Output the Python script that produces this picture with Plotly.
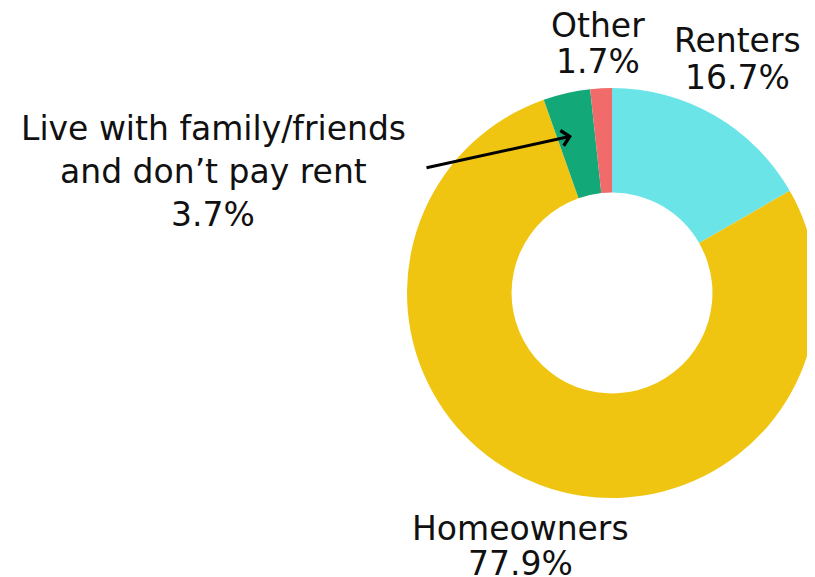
import plotly.graph_objects as go

categories = ["Renters", "Homeowners", "Live with family/friends and don’t pay rent", "Other"]
values = [16.7, 77.9, 3.7, 1.7]
colors = ["#6be4e8", "#f0c512", "#12a878", "#f26b6b"]

W, H = 815, 577
OFF = 8  # page body margin offset
FONT = "DejaVu Sans"
FS = 33
TXT = "#111111"

CX, CY, R = 612 - OFF, 293 - OFF, 205

fig = go.Figure(go.Pie(
    labels=categories,
    values=values,
    sort=False,
    direction="clockwise",
    rotation=0,
    hole=0.49,
    marker=dict(colors=colors, line=dict(width=0)),
    textinfo="none",
    hoverinfo="label+percent",
    domain=dict(x=[(CX - R) / W, (CX + R) / W], y=[(H - CY - R) / H, (H - CY + R) / H]),
    showlegend=False,
))

def px(x, y):
    return (x - OFF) / W, 1 - (y - OFF) / H

label_lines = [
    ("Other", 598, 26),
    ("1.7%", 598, 62),
    ("Renters", 737, 41),
    ("16.7%", 737, 77),
    ("Live with family/friends", 213, 128),
    ("and don’t pay rent", 213, 171),
    ("3.7%", 213, 214),
    ("Homeowners", 520, 528),
    ("77.9%", 520, 563),
]

annotations = []
for t, x, y in label_lines:
    ax_, ay_ = px(x, y)
    annotations.append(dict(
        text=t, x=ax_, y=ay_, xref="paper", yref="paper",
        xanchor="center", yanchor="middle", showarrow=False,
        font=dict(family=FONT, size=FS, color=TXT),
    ))

hx, hy = px(572, 136)
annotations.append(dict(
    text="", x=hx, y=hy, xref="paper", yref="paper",
    ax=425 - 572, ay=168 - 136, axref="pixel", ayref="pixel",
    showarrow=True, arrowhead=4, arrowsize=1, arrowwidth=3, arrowcolor="#000000",
))

fig.update_layout(
    width=W, height=H,
    margin=dict(l=0, r=0, t=0, b=0),
    paper_bgcolor="white",
    plot_bgcolor="white",
    annotations=annotations,
)

fig.write_html("out.html")
